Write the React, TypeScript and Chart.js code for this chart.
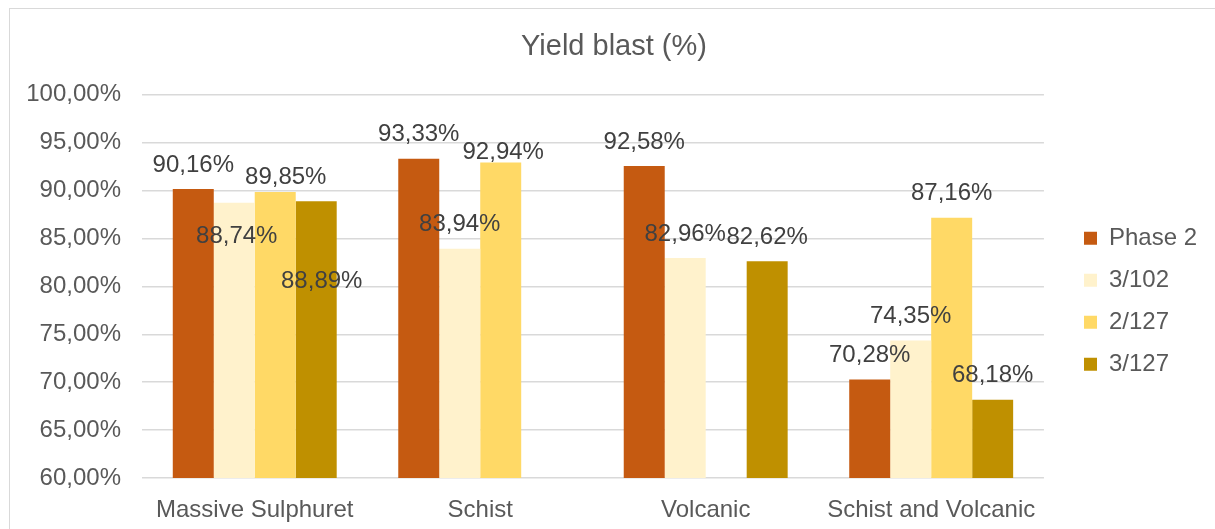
import { useEffect, useRef } from 'react';
import { Chart, registerables } from 'chart.js';

Chart.register(...registerables);

// ---- data ----
const categories = ['Massive Sulphuret', 'Schist', 'Volcanic', 'Schist and Volcanic'];
const seriesNames = ['Phase 2', '3/102', '2/127', '3/127'];
const phase2 = [90.16, 93.33, 92.58, 70.28];
const s3_102 = [88.74, 83.94, 82.96, 74.35];
const s2_127 = [89.85, 92.94, null, 87.16];
const s3_127 = [88.89, null, 82.62, 68.18];
const yMin = 60;
const yMax = 100;
const yStep = 5;
const titleText = 'Yield blast (%)';

// ---- styles ----
const colors = ['#C55A11', '#FFF2CC', '#FFD966', '#BF9000'];
const FONT = '"Liberation Sans", Arial, sans-serif';
const TEXT = '#595959';
const GRID = '#D9D9D9';

// label placement (pixel nudges relative to bar top-centre)
const LABEL_DEFAULT = { dx: 0, dy: -24 };
const LABEL_NUDGES: Record<string, { dx: number; dy: number }> = {
  '1-0': { dx: 2.5, dy: 34 },
  '2-0': { dx: 10.5, dy: -15 },
  '3-0': { dx: 5.5, dy: 80.5 },
  '2-1': { dx: 2.5, dy: -10 },
};
const LEGEND_BOX_X = 1084;
const LEGEND_FIRST_ROW_Y = 226.3;
const TITLE_CENTER_X = 614;

const fmt = (v: number) => v.toFixed(2).replace('.', ',') + '%';

const valueLabels = {
  id: 'valueLabels',
  afterDatasetsDraw(chart: any) {
    const ctx = chart.ctx;
    ctx.save();
    ctx.font = `24px ${FONT}`;
    ctx.fillStyle = '#404040';
    ctx.textAlign = 'center';
    ctx.textBaseline = 'middle';
    chart.data.datasets.forEach((ds: any, di: number) => {
      const meta = chart.getDatasetMeta(di);
      meta.data.forEach((bar: any, i: number) => {
        const v = ds.data[i];
        if (v == null) return;
        const off = LABEL_NUDGES[`${di}-${i}`] || LABEL_DEFAULT;
        ctx.fillText(fmt(v), bar.x + off.dx, bar.y + off.dy);
      });
    });
    ctx.restore();
  },
};

const boxPlacer = {
  id: 'boxPlacer',
  afterLayout(chart: any) {
    const lg = chart.legend;
    if (lg) {
      const pad = lg.options.labels.padding;
      const colH = lg.columnSizes && lg.columnSizes[0] ? lg.columnSizes[0].height : 0;
      const curY = (lg.top + pad + lg.bottom - colH) / 2;
      const dy = LEGEND_FIRST_ROW_Y - curY;
      const dx = LEGEND_BOX_X - (lg.left + pad);
      lg.top += dy;
      lg.bottom += dy;
      lg.left += dx;
      lg.right += dx;
    }
    const tb = chart.titleBlock;
    if (tb) {
      const dx = TITLE_CENTER_X - (tb.left + tb.right) / 2;
      tb.left += dx;
      tb.right += dx;
    }
  },
};

export default function App() {
  const ref = useRef<HTMLCanvasElement | null>(null);

  useEffect(() => {
    if (!ref.current) return;
    const series = [phase2, s3_102, s2_127, s3_127];
    const chart = new Chart(ref.current, {
      type: 'bar',
      data: {
        labels: categories,
        datasets: series.map((d, i) => ({
          label: seriesNames[i],
          data: d as any,
          backgroundColor: colors[i],
          borderWidth: 0,
          categoryPercentage: 0.727,
          barPercentage: 1,
        })),
      },
      options: {
        responsive: false,
        animation: false,
        devicePixelRatio: 1,
        layout: { padding: { left: 0, right: 30, top: 0, bottom: 0 } },
        plugins: {
          title: {
            display: true,
            text: titleText,
            color: TEXT,
            font: { family: FONT, size: 29, weight: 'normal' },
            padding: { top: 30, bottom: 30 },
          },
          legend: {
            display: true,
            position: 'right',
            labels: {
              boxWidth: 13,
              boxHeight: 13,
              padding: 18,
              color: TEXT,
              font: { family: FONT, size: 24 },
            },
          },
          tooltip: { enabled: false },
        },
        scales: {
          x: {
            grid: { display: false },
            border: { display: false },
            ticks: { color: TEXT, font: { family: FONT, size: 24 }, padding: 10, maxRotation: 0 },
            afterFit: (s: any) => {
              s.height = 51;
            },
          },
          y: {
            min: yMin,
            max: yMax,
            ticks: {
              stepSize: yStep,
              color: TEXT,
              font: { family: FONT, size: 24 },
              padding: 21,
              callback: (v: any) => fmt(Number(v)),
            },
            grid: { color: GRID, lineWidth: 1.5, drawTicks: false },
            border: { display: false },
            afterFit: (s: any) => {
              s.width = 142;
            },
          },
        },
      },
      plugins: [valueLabels, boxPlacer],
    });
    return () => chart.destroy();
  }, []);

  return (
    <div style={{ position: 'fixed', left: 0, top: 0, width: 1215, height: 529, overflow: 'hidden', background: '#fff' }}>
      <div
        style={{
          position: 'absolute',
          left: 9,
          top: 8,
          width: 1300,
          height: 600,
          border: `1.5px solid ${GRID}`,
        }}
      />
      <canvas ref={ref} width={1215} height={529} style={{ position: 'absolute', left: 0, top: 0, width: 1215, height: 529 }} />
    </div>
  );
}
